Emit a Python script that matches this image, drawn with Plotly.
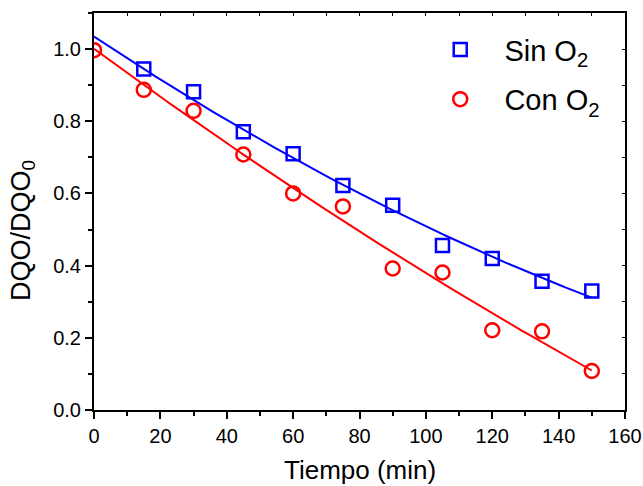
import numpy as np
import plotly.graph_objects as go

# Data (time in minutes, normalized COD)
tiempo_sin = [15, 30, 45, 60, 75, 90, 105, 120, 135, 150]
dqo_sin = [0.945, 0.882, 0.771, 0.710, 0.622, 0.567, 0.456, 0.420, 0.357, 0.330]

tiempo_con = [0, 15, 30, 45, 60, 75, 90, 105, 120, 135, 150]
dqo_con = [0.997, 0.887, 0.829, 0.708, 0.600, 0.564, 0.392, 0.381, 0.221, 0.218, 0.108]

# Fitted curves (2nd order polynomial fit of each series)
t_fit = np.linspace(0, 150, 151)
fit_sin = np.polyval(np.polyfit([0] + tiempo_sin, [1.02] + dqo_sin, 2), t_fit)
fit_con = np.polyval(np.polyfit(tiempo_con, dqo_con, 2), t_fit)

font = "Liberation Sans, Arial, sans-serif"
blue = "#0000FF"
red = "#FF0000"
nb = "\u00a0" * 3

fig = go.Figure()
fig.add_trace(go.Scatter(x=t_fit, y=fit_sin, mode="lines", line=dict(color=blue, width=2),
                         showlegend=False, hoverinfo="skip"))
fig.add_trace(go.Scatter(x=t_fit, y=fit_con, mode="lines", line=dict(color=red, width=2),
                         showlegend=False, hoverinfo="skip"))
fig.add_trace(go.Scatter(x=tiempo_sin, y=dqo_sin, mode="markers", name=nb + "Sin O<sub>2</sub>",
                         legendgroup="a",
                         marker=dict(symbol="square-open", size=13, color=blue, line=dict(width=2.5))))
fig.add_trace(go.Scatter(x=tiempo_con, y=dqo_con, mode="markers", name=nb + "Con O<sub>2</sub>",
                         legendgroup="b",
                         marker=dict(symbol="circle-open", size=14, color=red, line=dict(width=2.5))))

axis_common = dict(showline=True, linecolor="black", linewidth=2, ticks="outside", ticklen=7,
                   tickwidth=1.5, tickcolor="black", showgrid=False, zeroline=False,
                   automargin=False, tickfont=dict(size=20, color="black", family=font))

fig.update_layout(
    width=643, height=486,
    margin=dict(l=94, r=18, t=13, b=76),
    plot_bgcolor="white", paper_bgcolor="white",
    font=dict(family=font, color="black"),
    xaxis=dict(range=[0, 160], dtick=20, tick0=0,
               minor=dict(dtick=10, ticks="outside", ticklen=4, tickwidth=1.5, tickcolor="black"),
               **axis_common),
    yaxis=dict(range=[0, 1.1], dtick=0.2, tick0=0, tickformat=".1f",
               minor=dict(dtick=0.1, ticks="outside", ticklen=4, tickwidth=1.5, tickcolor="black"),
               **axis_common),
    xaxis2=dict(overlaying="x", side="top", range=[0, 160], dtick=10, ticks="inside", ticklen=3,
                tickwidth=1, tickcolor="black", showticklabels=False, showline=True,
                linecolor="black", linewidth=2, showgrid=False, zeroline=False, automargin=False),
    yaxis2=dict(overlaying="y", side="right", range=[0, 1.1], dtick=0.1, ticks="inside", ticklen=3,
                tickwidth=1, tickcolor="black", showticklabels=False, showline=True,
                linecolor="black", linewidth=2, showgrid=False, zeroline=False, automargin=False),
    legend=dict(x=0.652, y=0.972, xanchor="left", yanchor="top", bgcolor="rgba(0,0,0,0)",
                font=dict(size=29, family=font), tracegroupgap=9),
    annotations=[
        dict(text="Tiempo (min)", xref="paper", yref="paper", x=0.5, y=-0.151,
             xanchor="center", yanchor="middle", showarrow=False, font=dict(size=26)),
        dict(text="DQO/DQO<sub>0</sub>", xref="paper", yref="paper", x=-0.134, y=0.453,
             xanchor="center", yanchor="middle", textangle=-90, showarrow=False,
             font=dict(size=27)),
    ],
)

# invisible trace to activate the mirrored axes
fig.add_trace(go.Scatter(x=[0], y=[0], xaxis="x2", yaxis="y2", mode="markers",
                         marker=dict(opacity=0), showlegend=False, hoverinfo="skip"))

fig.write_html("out.html", config={"displayModeBar": False},
               post_script="document.body.style.margin='0';")
